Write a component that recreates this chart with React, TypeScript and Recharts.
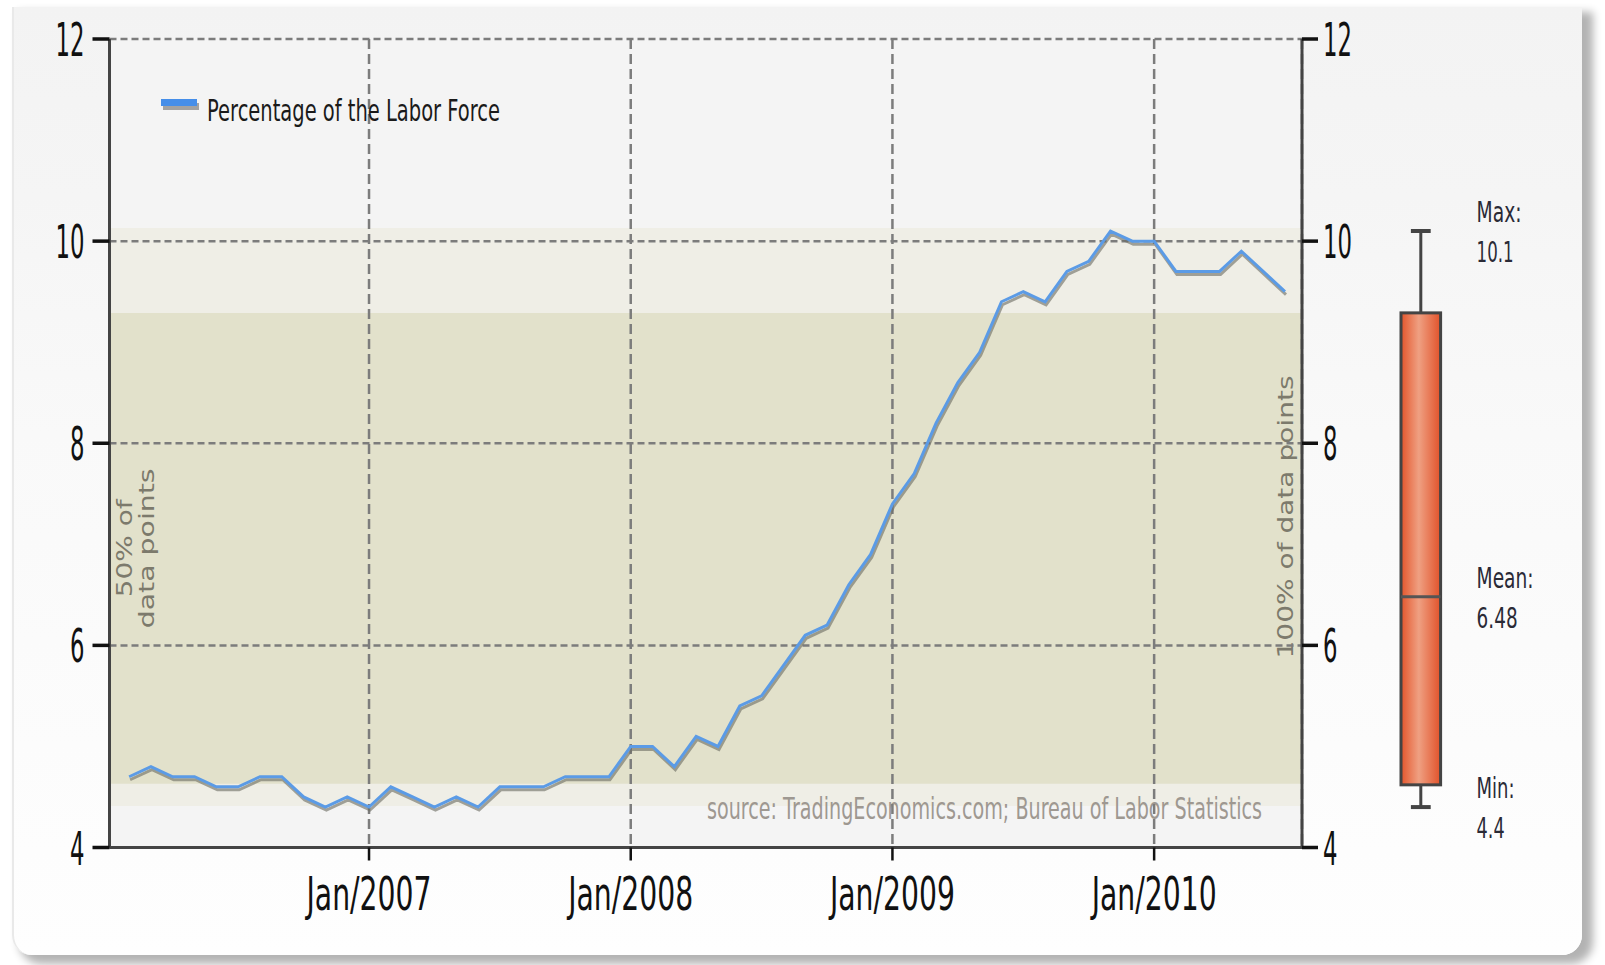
import React from "react";
import {
  LineChart,
  ComposedChart,
  Line,
  Bar,
  XAxis,
  YAxis,
  CartesianGrid,
  ReferenceArea,
  Legend,
} from "recharts";

// monthly unemployment rate, Jan 2006 .. Jun 2010
const months = [
  "Jan/2006", "Feb/2006", "Mar/2006", "Apr/2006", "May/2006", "Jun/2006",
  "Jul/2006", "Aug/2006", "Sep/2006", "Oct/2006", "Nov/2006", "Dec/2006",
  "Jan/2007", "Feb/2007", "Mar/2007", "Apr/2007", "May/2007", "Jun/2007",
  "Jul/2007", "Aug/2007", "Sep/2007", "Oct/2007", "Nov/2007", "Dec/2007",
  "Jan/2008", "Feb/2008", "Mar/2008", "Apr/2008", "May/2008", "Jun/2008",
  "Jul/2008", "Aug/2008", "Sep/2008", "Oct/2008", "Nov/2008", "Dec/2008",
  "Jan/2009", "Feb/2009", "Mar/2009", "Apr/2009", "May/2009", "Jun/2009",
  "Jul/2009", "Aug/2009", "Sep/2009", "Oct/2009", "Nov/2009", "Dec/2009",
  "Jan/2010", "Feb/2010", "Mar/2010", "Apr/2010", "May/2010", "Jun/2010",
];
const rate = [
  4.7, 4.8, 4.7, 4.7, 4.6, 4.6, 4.7, 4.7, 4.5, 4.4, 4.5, 4.4,
  4.6, 4.5, 4.4, 4.5, 4.4, 4.6, 4.6, 4.6, 4.7, 4.7, 4.7, 5.0,
  5.0, 4.8, 5.1, 5.0, 5.4, 5.5, 5.8, 6.1, 6.2, 6.6, 6.9, 7.4,
  7.7, 8.2, 8.6, 8.9, 9.4, 9.5, 9.4, 9.7, 9.8, 10.1, 10.0, 10.0,
  9.7, 9.7, 9.7, 9.9, 9.7, 9.5,
];

// x ticks sit on month boundaries (months counted from Jan 2006)
const xTicks = [12, 24, 36, 48];
const xTickLabels = ["Jan/2007", "Jan/2008", "Jan/2009", "Jan/2010"];
const yTicks = [4, 6, 8, 10, 12];

// bands and box plot stats
const band100 = [4.41, 10.13];
const band50 = [4.63, 9.29];
const statMin = 4.4;
const statQ1 = 4.62;
const statMean = 6.48;
const statQ3 = 9.29;
const statMax = 10.1;

const SERIES_NAME = "Percentage of the Labor Force";
const FONT = '"DejaVu Sans", Verdana, sans-serif';
const W = 1605;
const H = 965;
const X_DOMAIN = [0.1, 54.78];
const MAIN_MARGIN = { top: 39, right: 243, bottom: 57.5, left: 49.5 };

const data = rate.map((v, i) => ({ t: i + 1, month: months[i], v }));
const boxData = [
  {
    name: "all",
    range: [statQ1, statQ3],
    min: statMin,
    q1: statQ1,
    mean: statMean,
    q3: statQ3,
    max: statMax,
  },
];

function XTick(props: any) {
  const { x, y, payload } = props;
  const label = xTickLabels[xTicks.indexOf(payload.value)] ?? "";
  return (
    <text
      x={x}
      y={y + 47}
      textAnchor="middle"
      fontFamily={FONT}
      fontSize={46}
      fill="#111"
      textLength={125}
      lengthAdjust="spacingAndGlyphs"
    >
      {label}
    </text>
  );
}

function YTick(props: any) {
  const { x, y, payload, textAnchor } = props;
  const s = String(payload.value);
  return (
    <text
      x={x}
      y={y + 17}
      textAnchor={textAnchor}
      fontFamily={FONT}
      fontSize={46}
      fill="#111"
      textLength={s.length * 14.5}
      lengthAdjust="spacingAndGlyphs"
    >
      {s}
    </text>
  );
}

function LegendBox(props: any) {
  const item = props.payload && props.payload[0];
  return (
    <svg width={420} height={44} style={{ overflow: "visible" }}>
      <rect x={2} y={8} width={36} height={7} fill="#a2a2a2" />
      <rect x={0} y={4} width={36} height={7} fill="#458ee9" />
      <text
        x={46}
        y={26}
        fontFamily={FONT}
        fontSize={30}
        fill="#1a1a1a"
        textLength={293}
        lengthAdjust="spacingAndGlyphs"
      >
        {item ? item.value : SERIES_NAME}
      </text>
    </svg>
  );
}

const sourceLabel = (p: any) => {
  const vb = p.viewBox;
  return (
    <text
      x={vb.x + vb.width - 40}
      y={vb.y + vb.height - 29}
      textAnchor="end"
      fontFamily={FONT}
      fontSize={30}
      fill="#9e9891"
      textLength={555}
      lengthAdjust="spacingAndGlyphs"
    >
      source: TradingEconomics.com; Bureau of Labor Statistics
    </text>
  );
};

const label50 = (p: any) => {
  const vb = p.viewBox;
  const cy = vb.y + vb.height / 2;
  const common = {
    textAnchor: "middle" as const,
    fontFamily: FONT,
    fontSize: 22,
    fill: "#7c7a6c",
    lengthAdjust: "spacingAndGlyphs" as const,
  };
  return (
    <g>
      <text {...common} textLength={98} transform={`translate(${vb.x + 22},${cy}) rotate(-90)`}>
        50% of
      </text>
      <text {...common} textLength={160} transform={`translate(${vb.x + 44},${cy}) rotate(-90)`}>
        data points
      </text>
    </g>
  );
};

const label100 = (p: any) => {
  const vb = p.viewBox;
  const cy = vb.y + vb.height / 2;
  return (
    <text
      textAnchor="middle"
      fontFamily={FONT}
      fontSize={22}
      fill="#7c7a6c"
      textLength={283}
      lengthAdjust="spacingAndGlyphs"
      transform={`translate(${vb.x + vb.width - 9},${cy}) rotate(-90)`}
    >
      100% of data points
    </text>
  );
};

function StatText(props: { x: number; y: number; title: string; value: number; w1: number; w2: number }) {
  const common = {
    fontFamily: FONT,
    fontSize: 28,
    fill: "#2a2a36",
    lengthAdjust: "spacingAndGlyphs" as const,
  };
  return (
    <g>
      <text {...common} x={props.x} y={props.y - 9} textLength={props.w1}>
        {props.title}
      </text>
      <text {...common} x={props.x} y={props.y + 31} textLength={props.w2}>
        {String(props.value)}
      </text>
    </g>
  );
}

// box plot drawn from the range bar (q1..q3) and the bar's own scale
function BoxShape(props: any) {
  const { x, y, width, height, payload } = props;
  const top = Math.min(y, y + height);
  const h = Math.abs(height);
  const ppu = h / (payload.q3 - payload.q1);
  const yOf = (v: number) => top + (payload.q3 - v) * ppu;
  const cx = x + width / 2;
  const capHalf = width / 4;
  const lx = x + width + 36;
  return (
    <g>
      <defs>
        <linearGradient id="boxGrad" x1="0" y1="0" x2="1" y2="0">
          <stop offset="0%" stopColor="#e4552b" />
          <stop offset="45%" stopColor="#efa082" />
          <stop offset="100%" stopColor="#e2522a" />
        </linearGradient>
      </defs>
      <line x1={cx} x2={cx} y1={yOf(payload.max)} y2={top} stroke="#444" strokeWidth={3} />
      <line x1={cx} x2={cx} y1={top + h} y2={yOf(payload.min)} stroke="#444" strokeWidth={3} />
      <line x1={cx - capHalf} x2={cx + capHalf} y1={yOf(payload.max)} y2={yOf(payload.max)} stroke="#444" strokeWidth={4} />
      <line x1={cx - capHalf} x2={cx + capHalf} y1={yOf(payload.min)} y2={yOf(payload.min)} stroke="#444" strokeWidth={4} />
      <rect x={x} y={top} width={width} height={h} fill="url(#boxGrad)" stroke="#444" strokeWidth={3} />
      <line x1={x} x2={x + width} y1={yOf(payload.mean)} y2={yOf(payload.mean)} stroke="#555" strokeWidth={3} />
      <StatText x={lx} y={yOf(payload.max)} title="Max:" value={payload.max} w1={45} w2={37} />
      <StatText x={lx} y={yOf(payload.mean)} title="Mean:" value={payload.mean} w1={57} w2={41} />
      <StatText x={lx} y={yOf(payload.min)} title="Min:" value={payload.min} w1={38} w2={28} />
    </g>
  );
}

const blankAxis = { tick: false, axisLine: false, tickLine: false } as const;

export default function App() {
  return (
    <div
      style={{
        position: "absolute",
        left: 0,
        top: 0,
        width: W,
        height: H,
        background: "#ffffff",
        overflow: "hidden",
      }}
    >
      <style>{`.lf-series .recharts-line-curve { filter: drop-shadow(1px 3px 0px rgba(110,110,100,0.62)); }`}</style>
      <div
        style={{
          position: "absolute",
          left: 12,
          top: 7,
          width: 1568,
          height: 948,
          borderLeft: "2px solid #e9e9e9",
          borderRadius: "0 0 20px 20px",
          background: "linear-gradient(to bottom, #f3f3f3 0%, #f5f5f5 20%, #f9f9f9 45%, #fefefe 100%)",
          boxShadow: "9px 7px 9px 2px rgba(0,0,0,0.3)",
        }}
      />
      {/* background bands and their notes */}
      <div style={{ position: "absolute", left: 0, top: 0 }}>
        <LineChart width={W} height={H} data={data} margin={MAIN_MARGIN}>
          <XAxis dataKey="t" type="number" domain={X_DOMAIN} height={60} {...blankAxis} allowDataOverflow />
          <YAxis domain={[4, 12]} width={60} {...blankAxis} allowDataOverflow />
          <YAxis yAxisId="r" orientation="right" domain={[4, 12]} width={60} {...blankAxis} />
          <ReferenceArea y1={4} y2={12} fill="#f4f4f4" fillOpacity={1} stroke="none" />
          <ReferenceArea y1={band100[0]} y2={band100[1]} fill="#efeee6" fillOpacity={1} stroke="none" />
          <ReferenceArea y1={band50[0]} y2={band50[1]} fill="#e2e1cb" fillOpacity={1} stroke="none" />
          <ReferenceArea y1={4} y2={12} fill="none" fillOpacity={0} stroke="none" label={sourceLabel} />
          <ReferenceArea y1={band100[0]} y2={band100[1]} fill="none" fillOpacity={0} stroke="none" label={label100} />
          <ReferenceArea y1={band50[0]} y2={band50[1]} fill="none" fillOpacity={0} stroke="none" label={label50} />
        </LineChart>
      </div>
      {/* grid, axes and series */}
      <div style={{ position: "absolute", left: 0, top: 0 }}>
        <LineChart width={W} height={H} data={data} margin={MAIN_MARGIN}>
          <CartesianGrid horizontal vertical={false} stroke="#7c7c7c" strokeWidth={2.5} strokeDasharray="7 4" />
          <CartesianGrid horizontal={false} vertical stroke="#7c7c7c" strokeWidth={2.5} strokeDasharray="10 5" />
          <XAxis
            dataKey="t"
            type="number"
            domain={X_DOMAIN}
            ticks={xTicks}
            height={60}
            tick={<XTick />}
            tickSize={13}
            tickMargin={2}
            tickLine={{ stroke: "#111", strokeWidth: 2.5 }}
            axisLine={{ stroke: "#444", strokeWidth: 3 }}
            allowDataOverflow
          />
          <YAxis
            domain={[4, 12]}
            ticks={yTicks}
            width={60}
            tick={<YTick />}
            tickSize={17}
            tickMargin={8}
            tickLine={{ stroke: "#111", strokeWidth: 3.5 }}
            axisLine={{ stroke: "#444", strokeWidth: 3 }}
            allowDataOverflow
          />
          <YAxis
            yAxisId="r"
            orientation="right"
            domain={[4, 12]}
            ticks={yTicks}
            width={60}
            tick={<YTick />}
            tickSize={16}
            tickMargin={5}
            tickLine={{ stroke: "#111", strokeWidth: 3.5 }}
            axisLine={{ stroke: "#444", strokeWidth: 3 }}
            allowDataOverflow
          />
          <Legend
            layout="vertical"
            align="center"
            verticalAlign="middle"
            wrapperStyle={{ position: "absolute", top: 95, left: 161, width: 420 }}
            content={<LegendBox />}
          />
          <Line
            className="lf-series"
            type="linear"
            dataKey="v"
            name={SERIES_NAME}
            stroke="#5b9be6"
            strokeWidth={3}
            dot={false}
            activeDot={false}
            isAnimationActive={false}
          />
        </LineChart>
      </div>
      {/* box plot of the data */}
      <div style={{ position: "absolute", left: 0, top: 0 }}>
        <ComposedChart
          width={W}
          height={H}
          data={boxData}
          margin={{ top: 39, right: 162, bottom: 87.5, left: 1339 }}
          barCategoryGap={0}
        >
          <XAxis type="category" dataKey="name" height={30} {...blankAxis} />
          <YAxis type="number" domain={[4, 12]} width={60} {...blankAxis} />
          <Bar dataKey="range" barSize={44} shape={<BoxShape />} isAnimationActive={false} />
        </ComposedChart>
      </div>
    </div>
  );
}
